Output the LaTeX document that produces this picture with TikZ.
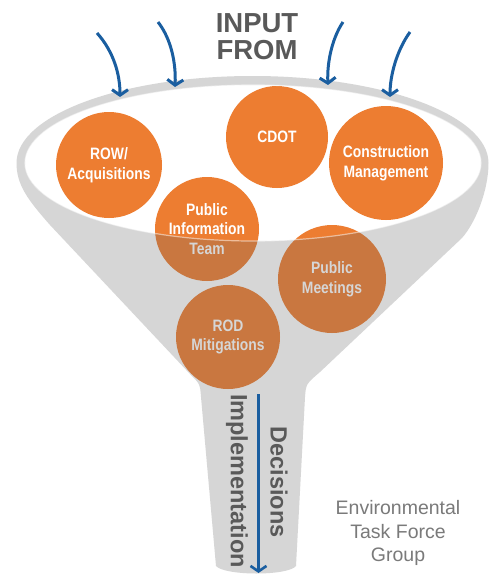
\documentclass[tikz,border=0pt]{standalone}
\usepackage{fontspec}
\setmainfont{Liberation Sans}
\newfontfamily\circfont[FakeStretch=0.84]{Liberation Sans}
\usetikzlibrary{positioning,arrows.meta}
\definecolor{funnelorange}{HTML}{ED7D31}
\definecolor{inputblue}{HTML}{1A5EA0}
\definecolor{labelgray}{HTML}{595959}
\definecolor{groupgray}{HTML}{7A7A7A}

\begin{document}
\begin{tikzpicture}[x=1pt,y=-1pt,>={Straight Barb[length=5.5pt,width=16pt]},
  circ/.style={circle,fill=funnelorange,text=white,minimum size=#1,inner sep=0pt,
    align=center,font=\circfont\bfseries\fontsize{16.5}{19.8}\selectfont},
  inarrow/.style={->,inputblue,line width=3pt},
  spouttext/.style={labelgray,font=\bfseries\fontsize{23.5}{26}\selectfont,rotate=-90,inner sep=0pt}]
\useasboundingbox (0,0) rectangle (489,578);
\fill[white] (0,0) rectangle (489,578);
\node (row) [circ=106pt] at (109,165) {ROW/\\Acquisitions};
\node (cdot) [circ=102pt] at (277,137) {CDOT};
\node (cm) [circ=114pt] at (386,163) {Construction\\Management};
\node (pit) [circ=104pt] at (207,229) {Public\\Information\\Team};
\node (pm) [circ=108pt] at (332,279) {Public\\Meetings};
\node (rod) [circ=104pt] at (228,337) {ROD\\Mitigations};
\fill[black!59,opacity=0.27,even odd rule]
  (16.5,163) arc[start angle=180,end angle=360,x radius=236,y radius=87]
  .. controls (488.5,190) and (476,222) .. (462,238) -- (320,372)
  .. controls (306,384) .. (305,397) -- (296,566)
  .. controls (288,576) and (225,576) .. (216,566) -- (201,397)
  .. controls (200,384) .. (190,374) -- (50,225)
  .. controls (28,200) and (16.5,185) .. (16.5,163) -- cycle
  (253,163) ellipse[x radius=228,y radius=78];
\draw[white,opacity=0.5,line width=1.2pt] (253,163) ellipse[x radius=228,y radius=78];
\node (input) [labelgray,align=center,inner sep=0pt,font=\bfseries\fontsize{27.5}{27}\selectfont] at (257,37) {INPUT\\FROM};
\coordinate (a1) at (97,33);  \coordinate (b1) at (120,97);
\coordinate (a2) at (158,22); \coordinate (b2) at (175,87);
\coordinate (a3) at (343,22); \coordinate (b3) at (328,85);
\coordinate (a4) at (410,32); \coordinate (b4) at (390,97);
\draw[inarrow] (a1) .. controls (114,52) and (120,75) .. (b1);
\draw[inarrow] (a2) .. controls (172,40) and (176,65) .. (b2);
\draw[inarrow] (a3) .. controls (331,40) and (327,65) .. (b3);
\draw[inarrow] (a4) .. controls (397,50) and (390,75) .. (b4);
\coordinate (dtop) at (258.5,394);
\coordinate (dbot) at (258.5,573);
\draw[->,inputblue,line width=2.6pt] (dtop) -- (dbot);
\node (impl) [spouttext] at (237,481) {Implementation};
\node (dec) [spouttext] at (279,482) {Decisions};
\node (etf) [groupgray,align=center,inner sep=0pt,font=\fontsize{19.5}{23.5}\selectfont] at (398,533) {Environmental\\Task Force\\Group};
\end{tikzpicture}
\end{document}
